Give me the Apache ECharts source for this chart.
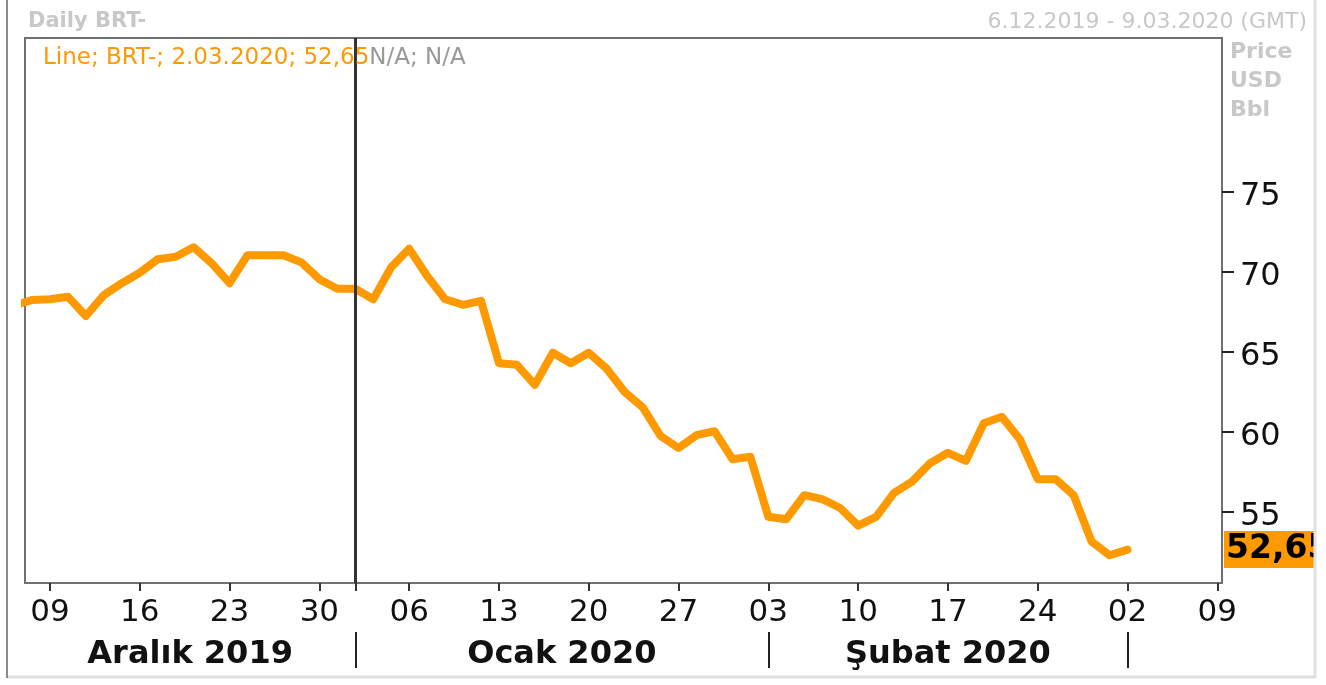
<!DOCTYPE html>
<html>
<head>
<meta charset="utf-8">
<script src="https://cdn.jsdelivr.net/npm/echarts@6/dist/echarts.min.js"></script>
<style>
    html, body { margin: 0; padding: 0; background: #fff; }
    #chart { width: 1326px; height: 685px; }
</style>
</head>
<body>
<div id="chart"></div>
<script>
// one value per weekday slot, first slot = 5.12.2019 (slot -1), 6.12.2019 = slot 0
const prices = [
    67.9, 68.25, 68.3, 68.45, 67.25, 68.55, 69.3,
    69.95, 70.8, 70.95, 71.55, 70.55,
    69.3, 71.05, 71.05, 71.05, 70.6,
    69.55, 68.95, 68.95, 68.3, 70.3,
    71.45, 69.75, 68.3, 67.95, 68.2,
    64.3, 64.2, 62.95, 64.95, 64.3,
    64.95, 63.95, 62.5, 61.55, 59.75,
    59.0, 59.8, 60.05, 58.3, 58.45,
    54.7, 54.55, 56.05, 55.8, 55.25,
    54.15, 54.7, 56.2, 56.9, 58.05,
    58.7, 58.2, 60.55, 60.95, 59.55,
    57.05, 57.05, 56.05, 53.15, 52.3,
    52.65
];
const firstSlot = -1;
// Mondays (every 5th weekday slot from 9.12.2019)
const weekLabels = ['09', '16', '23', '30', '06', '13', '20', '27', '03', '10', '17', '24', '02', '09'];
const monthNames = ['Aralık 2019', 'Ocak 2020', 'Şubat 2020'];
const monthStarts = [18, 41, 61]; // 1.01, 3.02, 2.03
const priceTicks = [55, 60, 65, 70, 75];
const lastLabel = '52,65';

const xMin = -0.39, xMax = 66.26;
const weekSlots = weekLabels.map((d, k) => 1 + 5 * k);
const monthMids = [(xMin + monthStarts[0]) / 2, (monthStarts[0] + monthStarts[1]) / 2, (monthStarts[1] + monthStarts[2]) / 2];
const lineData = prices.map((v, k) => [k + firstSlot, v]);
const lastValue = prices[prices.length - 1];

const font = 'DejaVu Sans';
const grey = '#c8c8c8';
const orange = '#ff9900';

const chart = echarts.init(document.getElementById('chart'));
chart.setOption({
    animation: false,
    backgroundColor: '#fff',
    textStyle: { fontFamily: font },
    title: [
        {
            text: 'Daily BRT-', left: 23, top: 6,
            textStyle: { fontFamily: font, fontSize: 21, fontWeight: 'bold', color: grey }
        },
        {
            text: '6.12.2019 - 9.03.2020 (GMT)', right: 14, top: 6,
            textStyle: { fontFamily: font, fontSize: 22, fontWeight: 'normal', color: grey }
        },
        {
            text: 'Price\nUSD\nBbl', left: 1225, top: 33,
            textStyle: { fontFamily: font, fontSize: 22, fontWeight: 'bold', color: grey, lineHeight: 29 }
        },
        {
            text: '{a|Line; BRT-; 2.03.2020; ' + lastLabel + '}{b|N/A; N/A}', left: 38, top: 42,
            textStyle: {
                fontWeight: 'normal',
                rich: {
                    a: { fontFamily: font, fontSize: 23, fontWeight: 'normal', color: orange },
                    b: { fontFamily: font, fontSize: 23, fontWeight: 'normal', color: '#999' }
                }
            }
        }
    ],
    grid: {
        left: 25, right: 104, top: 38, bottom: 102,
        show: true, borderColor: '#707070', borderWidth: 2, backgroundColor: '#fff'
    },
    xAxis: [
        {
            type: 'value', min: xMin, max: xMax,
            axisLine: { show: false, onZero: false },
            splitLine: { show: false },
            axisTick: {
                show: true, length: 8, customValues: weekSlots.concat([monthStarts[0]]),
                lineStyle: { color: '#333', width: 2 }
            },
            axisLabel: {
                customValues: weekSlots, margin: 14,
                fontFamily: font, fontSize: 31, color: '#111',
                formatter: v => weekLabels[Math.round((v - 1) / 5)]
            }
        },
        {
            type: 'value', min: xMin, max: xMax, position: 'bottom', offset: 49,
            axisLine: { show: false, onZero: false },
            splitLine: { show: false },
            axisTick: {
                show: true, length: 36, customValues: monthStarts,
                lineStyle: { color: '#222', width: 2 }
            },
            axisLabel: {
                customValues: monthMids, margin: 7,
                fontFamily: font, fontSize: 32, fontWeight: 'bold', color: '#111',
                formatter: v => monthNames[monthMids.findIndex(m => Math.abs(m - v) < 0.01)]
            }
        }
    ],
    yAxis: {
        type: 'value', position: 'right', min: 50.5625, max: 84.625,
        axisLine: { show: true, onZero: false, lineStyle: { color: '#707070', width: 2 } },
        splitLine: { show: false },
        axisTick: {
            show: true, length: 12, customValues: priceTicks,
            lineStyle: { color: '#222', width: 2 }
        },
        axisLabel: {
            customValues: priceTicks, margin: 18,
            fontFamily: font, fontSize: 32, color: '#111',
            verticalAlign: 'top', lineHeight: 10
        }
    },
    series: [{
        type: 'line',
        data: lineData,
        showSymbol: false,
        clip: true,
        lineStyle: { color: orange, width: 8, join: 'round', cap: 'round' },
        markLine: {
            silent: true,
            symbol: 'none',
            data: [
                {
                    xAxis: monthStarts[0],
                    lineStyle: { color: '#333', width: 3, type: 'solid' },
                    label: { show: false }
                },
                {
                    yAxis: lastValue,
                    lineStyle: { color: 'rgba(0,0,0,0)', width: 0 },
                    label: {
                        show: true, position: 'end', distance: 2,
                        formatter: lastLabel,
                        backgroundColor: orange, color: '#000',
                        fontFamily: font, fontSize: 33, fontWeight: 'bold',
                        padding: [3, 2, 1, 2]
                    }
                }
            ]
        }
    }],
    graphic: [
        { type: 'rect', z: 100, shape: { x: 1314, y: 0, width: 12, height: 685 }, style: { fill: '#fff' } },
        { type: 'line', z: 101, shape: { x1: 1315, y1: 0, x2: 1315, y2: 678 }, style: { stroke: '#e0e0e0', lineWidth: 3 } },
        { type: 'line', z: 101, shape: { x1: 7, y1: 677, x2: 1316, y2: 677 }, style: { stroke: '#e0e0e0', lineWidth: 3 } },
        { type: 'line', z: 101, shape: { x1: 7, y1: 0, x2: 7, y2: 678 }, style: { stroke: '#8a8a8a', lineWidth: 2 } }
    ]
});
</script>
</body>
</html>
